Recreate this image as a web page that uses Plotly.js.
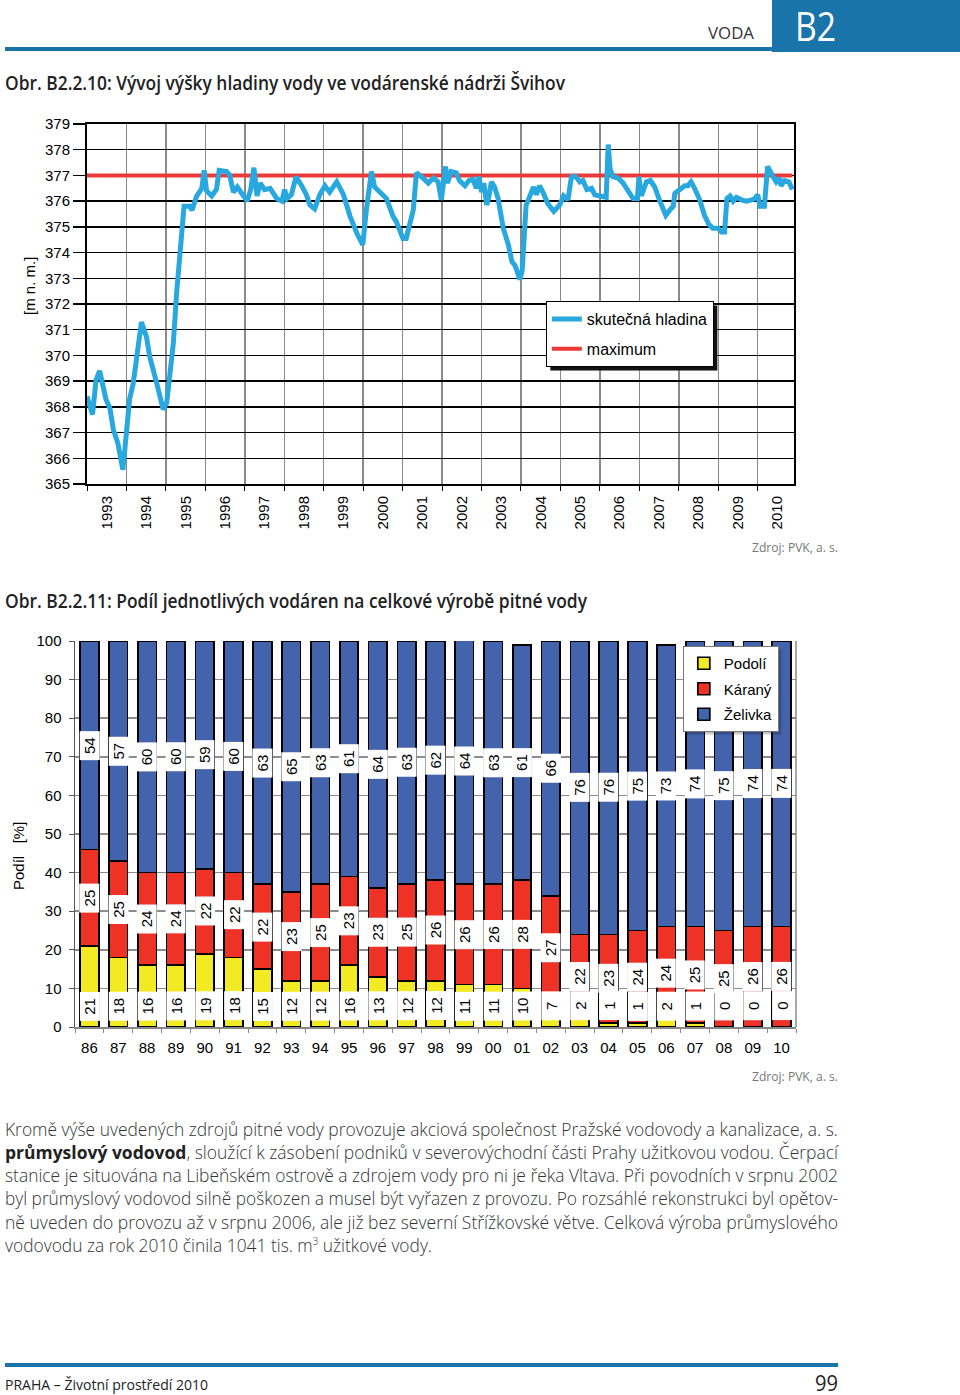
<!DOCTYPE html>
<html><head><meta charset="utf-8">
<script src="https://cdn.plot.ly/plotly-3.0.1.min.js"></script>
<style>
body{margin:0;width:960px;height:1395px;position:relative;background:#fff;overflow:hidden;font-family:'Open Sans','Noto Sans',sans-serif;color:#333}
.t{position:absolute;white-space:nowrap;display:inline-block;transform-origin:0 50%}
.bar{position:absolute;background:#1874a9}
#c1,#c2{position:absolute;left:0}
</style></head><body>
<div class="bar" style="left:772px;top:0;width:188px;height:52px"></div>
<div class="bar" style="left:5px;top:47px;width:767px;height:4px"></div>
<span class="t" id="voda" data-w="46" style="left:708px;top:24px;font-size:16px;line-height:18px;color:#333">VODA</span>
<span class="t" id="b2" data-w="41" style="left:795px;top:4px;font-size:40px;line-height:44px;color:#fff">B2</span>
<span class="t" id="tit1" data-w="560" style="left:5px;top:72px;font-size:19px;line-height:22px;font-weight:600;color:#222">Obr. B2.2.10: Vývoj výšky hladiny vody ve vodárenské nádrži Švihov</span>
<div id="c1" style="top:100px;width:960px;height:450px"></div>
<span class="t" id="z1" data-w="86" style="left:752px;top:539px;font-size:13px;line-height:16px;color:#777">Zdroj: PVK, a. s.</span>
<span class="t" id="tit2" data-w="582" style="left:5px;top:590px;font-size:19px;line-height:22px;font-weight:600;color:#222">Obr. B2.2.11: Podíl jednotlivých vodáren na celkové výrobě pitné vody</span>
<div id="c2" style="top:610px;width:960px;height:460px"></div>
<span class="t" id="z2" data-w="86" style="left:752px;top:1068px;font-size:13px;line-height:16px;color:#777">Zdroj: PVK, a. s.</span>
<span class="t" data-w="833" style="left:5px;top:1118px;font-size:18px;line-height:23px;font-weight:300">Kromě výše uvedených zdrojů pitné vody provozuje akciová společnost Pražské vodovody a kanalizace, a. s.</span>
<span class="t" data-w="833" style="left:5px;top:1141px;font-size:18px;line-height:23px;font-weight:300"><b style="font-weight:700;color:#222">průmyslový vodovod</b>, sloužící k zásobení podniků v severovýchodní části Prahy užitkovou vodou. Čerpací</span>
<span class="t" data-w="833" style="left:5px;top:1164px;font-size:18px;line-height:23px;font-weight:300">stanice je situována na Libeňském ostrově a zdrojem vody pro ni je řeka Vltava. Při povodních v srpnu 2002</span>
<span class="t" data-w="833" style="left:5px;top:1187px;font-size:18px;line-height:23px;font-weight:300">byl průmyslový vodovod silně poškozen a musel být vyřazen z provozu. Po rozsáhlé rekonstrukci byl opětov-</span>
<span class="t" data-w="833" style="left:5px;top:1211px;font-size:18px;line-height:23px;font-weight:300">ně uveden do provozu až v srpnu 2006, ale již bez severní Střížkovské větve. Celková výroba průmyslového</span>
<span class="t" data-w="427" style="left:5px;top:1234px;font-size:18px;line-height:23px;font-weight:300">vodovodu za rok 2010 činila 1041 tis. m<sup style="font-size:10px;line-height:0">3</sup> užitkové vody.</span>
<div class="bar" style="left:5px;top:1363px;width:833px;height:4px"></div>
<span class="t" data-w="203" style="left:5px;top:1375px;font-size:15px;line-height:18px;color:#222">PRAHA – Životní prostředí 2010</span>
<span class="t" data-w="23" style="left:815px;top:1370px;font-size:22px;line-height:24px;color:#222">99</span>
<script>
// ---------- Chart 1 data ----------
const yearLabels = ['1993','1994','1995','1996','1997','1998','1999','2000','2001','2002','2003','2004','2005','2006','2007','2008','2009','2010'];
const lineYears = [1993.00,1993.14,1993.23,1993.32,1993.48,1993.58,1993.67,1993.78,1993.91,
 1994.00,1994.08,1994.17,1994.26,1994.38,1994.51,1994.59,1994.77,1994.93,
 1995.02,1995.19,1995.27,1995.36,1995.46,1995.60,1995.66,1995.78,1995.91,1995.97,
 1996.03,1996.16,1996.28,1996.35,1996.54,1996.62,1996.71,1996.81,1996.96,
 1997.06,1997.15,1997.23,1997.31,1997.39,1997.50,1997.64,1997.81,1997.94,
 1998.01,1998.07,1998.18,1998.30,1998.44,1998.56,1998.65,1998.77,1998.90,
 1999.03,1999.15,1999.33,1999.50,1999.67,1999.84,1999.99,
 2000.08,2000.21,2000.29,2000.42,2000.59,2000.76,2000.84,
 2001.01,2001.09,2001.27,2001.35,2001.48,2001.65,2001.78,2001.90,2001.98,
 2002.09,2002.14,2002.23,2002.36,2002.44,2002.58,2002.68,2002.78,2002.87,2002.93,
 2003.00,2003.06,2003.13,2003.19,2003.25,2003.33,2003.42,2003.55,2003.68,2003.77,2003.85,2003.97,
 2004.03,2004.13,2004.27,2004.32,2004.39,2004.47,2004.57,2004.68,2004.83,2004.98,
 2005.08,2005.19,2005.28,2005.39,2005.49,2005.57,2005.67,2005.79,2005.87,2005.99,
 2006.16,2006.21,2006.26,2006.33,2006.46,2006.59,2006.71,2006.84,2006.95,2006.99,
 2007.05,2007.18,2007.28,2007.39,2007.52,2007.67,2007.77,2007.86,2007.90,
 2008.02,2008.15,2008.23,2008.31,2008.40,2008.53,2008.65,2008.76,2008.86,
 2009.00,2009.08,2009.16,2009.22,2009.30,2009.38,2009.46,2009.59,2009.71,2009.85,2009.93,
 2010.00,2010.06,2010.17,2010.25,2010.39,2010.47,2010.55,2010.59,2010.68,2010.79,2010.88];
const lineLevel = [368.4,367.7,369.05,369.4,368.3,367.95,367.1,366.6,365.55,
 367.1,368.3,368.9,370.1,371.3,370.7,369.95,368.9,367.9,
 368.15,370.5,372.4,374.1,375.8,375.8,375.65,376.2,376.5,377.2,
 376.4,376.2,376.45,377.2,377.15,377.0,376.35,376.55,376.25,
 376.0,376.45,377.3,376.2,376.7,376.45,376.5,376.1,376.0,
 376.45,376.1,376.25,376.95,376.6,376.25,375.85,375.7,376.25,
 376.6,376.35,376.75,376.25,375.4,374.75,374.3,
 375.65,377.15,376.55,376.35,376.1,375.4,375.2,
 374.55,374.55,375.65,377.1,376.95,376.7,376.9,376.75,376.05,
 377.35,376.7,377.15,377.1,376.8,376.6,376.8,376.85,376.5,376.95,
 376.35,376.7,375.85,376.2,376.75,376.55,376.1,374.95,374.3,373.65,373.5,372.95,
 373.3,375.85,376.35,376.55,376.25,376.6,376.3,375.9,375.6,375.85,
 376.2,376.05,376.95,376.95,376.75,376.8,376.45,376.5,376.25,376.2,
 376.15,378.2,377.25,376.95,376.9,376.7,376.45,376.1,376.1,376.95,
 376.2,376.75,376.8,376.55,376.0,375.45,375.65,375.8,376.3,
 376.45,376.6,376.6,376.75,376.5,376.05,375.45,375.1,374.95,
 374.95,374.8,374.8,376.1,376.2,376.0,376.15,376.05,376.0,376.05,376.1,
 376.25,375.8,375.8,377.35,376.95,376.75,376.9,376.6,376.8,376.75,376.45];
const maximumLevel = 377;

// ---------- Chart 2 data ----------
const barYears = ['86','87','88','89','90','91','92','93','94','95','96','97','98','99','00','01','02','03','04','05','06','07','08','09','10'];
const podoli  = [21,18,16,16,19,18,15,12,12,16,13,12,12,11,11,10,7,2,1,1,2,1,0,0,0];
const karany  = [25,25,24,24,22,22,22,23,25,23,23,25,26,26,26,28,27,22,23,24,24,25,25,26,26];
const zelivka = [54,57,60,60,59,60,63,65,63,61,64,63,62,64,63,61,66,76,76,75,73,74,75,74,74];

const FONT = 'Liberation Sans, Arial, sans-serif';

function legendShadow(gd, dx, dy, color){
  const bg = gd.querySelector('.legend .bg');
  if (!bg) return;
  const r = bg.getBoundingClientRect(), g = gd.getBoundingClientRect(), s = gd._fullLayout._size;
  const x0 = (r.left - g.left + dx - s.l)/s.w, x1 = (r.right - g.left + dx - s.l)/s.w;
  const y1 = 1 - (r.top - g.top + dy - s.t)/s.h, y0 = 1 - (r.bottom - g.top + dy - s.t)/s.h;
  const shapes = (gd.layout.shapes || []).slice();
  shapes.push({type:'rect', xref:'paper', yref:'paper', x0:x0, x1:x1, y0:y0, y1:y1, fillcolor:color, line:{width:0}, layer:'above'});
  return Plotly.relayout(gd, {shapes:shapes});
}

// ---------- Chart 1 ----------
const c1traces = [
  {x:[lineYears[0], lineYears[lineYears.length-1]], y:[maximumLevel, maximumLevel], mode:'lines', name:'maximum',
   line:{color:'#ec3a3a', width:4}, legendrank:2, legendgroup:'m', hoverinfo:'skip'},
  {x:lineYears, y:lineLevel, mode:'lines', name:'skutečná hladina',
   line:{color:'#29a8e0', width:5}, legendrank:1, legendgroup:'s', hoverinfo:'skip'}
];
const c1layout = {
  width:960, height:450, margin:{l:87, r:166, t:24, b:66},
  paper_bgcolor:'rgba(0,0,0,0)', plot_bgcolor:'#fff',
  font:{family:FONT, size:15, color:'#000'},
  showlegend:true,
  xaxis:{range:[1993, 2010.92], tickmode:'array', tickvals:yearLabels.map(y=>Number(y)+0.5), ticktext:yearLabels,
    tickangle:-90, ticks:'', showgrid:false, showline:true, mirror:true, linecolor:'#000', linewidth:2, zeroline:false,
    ticklabelstandoff:4,
    minor:{tickmode:'array', tickvals:yearLabels.map(Number), ticks:'outside', ticklen:5, tickcolor:'#000',
      showgrid:true, gridcolor:'#8a8a8a', gridwidth:1.5}},
  yaxis:{range:[365,379], dtick:1, ticks:'outside', ticklen:12, tickcolor:'#000', tickwidth:1.5,
    gridcolor:'#000', gridwidth:1.5, showline:true, mirror:true, linecolor:'#000', linewidth:2, zeroline:false,
    ticklabelstandoff:0},
  legend:{x:0.649, y:0.508, xanchor:'left', yanchor:'top', bgcolor:'#fff', bordercolor:'#000', borderwidth:1,
    traceorder:'grouped', tracegroupgap:6, font:{size:16, family:FONT}},
  shapes:[],
  annotations:[{xref:'paper', yref:'paper', x:0, xshift:-57, y:0.55, xanchor:'center', yanchor:'middle',
    text:'[m n. m.]', textangle:-90, showarrow:false, font:{size:15}}]
};
Plotly.newPlot('c1', c1traces, c1layout, {displayModeBar:false, staticPlot:true})
  .then(gd => legendShadow(gd, 4, 4, '#111'));

// ---------- Chart 2 ----------
const lbl = {xref:'x', yref:'y', showarrow:false, textangle:-90, bgcolor:'#fff', width:26, height:17, borderpad:1,
  xanchor:'center', font:{family:'Liberation Sans Narrow, Arial Narrow, Liberation Sans, Arial, sans-serif', size:15, color:'#000'}};
const c2ann = [];
barYears.forEach((yr,i)=>{
  c2ann.push(Object.assign({}, lbl, {x:i, y:0, yanchor:'bottom', yshift:6, text:String(podoli[i])}));
  c2ann.push(Object.assign({}, lbl, {x:i, y:podoli[i]+karany[i]/2, yanchor:'middle', text:String(karany[i])}));
  c2ann.push(Object.assign({}, lbl, {x:i, y:podoli[i]+karany[i]+zelivka[i]/2, yanchor:'middle', text:String(zelivka[i])}));
});
c2ann.push({xref:'paper', yref:'paper', x:0, xshift:-57, y:0.443, xanchor:'center', yanchor:'middle',
  text:'Podíl   [%]', textangle:-90, showarrow:false, font:{size:15, family:FONT}});
const outline = {color:'#000', width:1.7};
const c2traces = [
  {type:'bar', x:barYears, y:podoli, name:'Podolí', marker:{color:'#f2ea22', line:outline}, legendgroup:'p', hoverinfo:'skip'},
  {type:'bar', x:barYears, y:karany, name:'Káraný', marker:{color:'#ee3226', line:outline}, legendgroup:'k', hoverinfo:'skip'},
  {type:'bar', x:barYears, y:zelivka, name:'Želivka', marker:{color:'#4463ad', line:outline}, legendgroup:'z', hoverinfo:'skip'}
];
const c2layout = {
  width:960, height:460, margin:{l:75, r:164, t:31, b:43},
  paper_bgcolor:'rgba(0,0,0,0)', plot_bgcolor:'#fff',
  font:{family:FONT, size:15, color:'#000'},
  barmode:'stack', bargap:0.355, showlegend:true,
  xaxis:{type:'category', range:[-0.5, barYears.length-0.5], tickangle:0, ticks:'outside', tickson:'boundaries', ticklen:4,
    tickcolor:'#888', showline:true, linecolor:'#888', linewidth:1.5, showgrid:false, ticklabelstandoff:6},
  yaxis:{range:[0,100], dtick:10, ticks:'outside', ticklen:5, tickcolor:'#555', showline:true, linecolor:'#555',
    linewidth:1.5, gridcolor:'#8c8c8c', gridwidth:1.5, zeroline:false, ticklabelstandoff:4},
  legend:{x:0.843, y:0.987, xanchor:'left', yanchor:'top', bgcolor:'#fff', bordercolor:'#777', borderwidth:1,
    traceorder:'grouped', tracegroupgap:3, font:{size:15, family:FONT}},
  shapes:[
    {type:'line', xref:'paper', yref:'paper', x0:1, x1:1, y0:0, y1:1, line:{color:'#888', width:1.5}, layer:'above'}
  ],
  annotations:c2ann
};
Plotly.newPlot('c2', c2traces, c2layout, {displayModeBar:false, staticPlot:true})
  .then(gd => legendShadow(gd, 3, 3, 'rgba(0,0,0,0.22)'));

// ---------- fit page texts ----------
function fitAll(){
  document.querySelectorAll('.t').forEach(el=>{
    el.style.transform='none';
    const w = el.getBoundingClientRect().width;
    const target = Number(el.dataset.w);
    if (w>0 && target) el.style.transform = 'scaleX(' + (target/w) + ')';
  });
}
fitAll();
if (document.fonts && document.fonts.ready) document.fonts.ready.then(fitAll);
</script>
</body></html>
